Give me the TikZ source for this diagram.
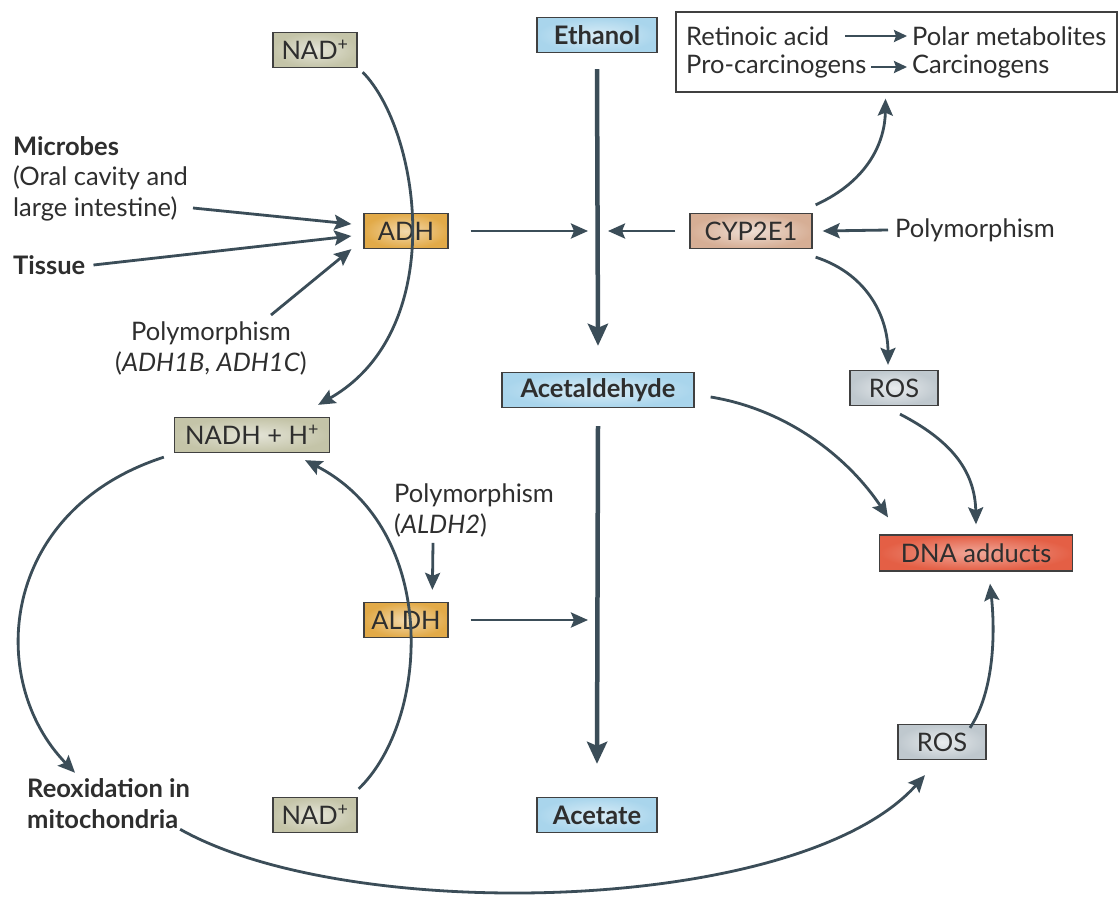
\documentclass[tikz,border=0pt]{standalone}
\usepackage{fontspec}
\setmainfont{Lato}
\usetikzlibrary{arrows.meta}
\definecolor{ln}{HTML}{3B4D58}
\definecolor{txt}{HTML}{2E2E2E}
\definecolor{nadc}{HTML}{C4C4A8}
\definecolor{bluec}{HTML}{A9D5EC}
\definecolor{adhc}{HTML}{E2AA48}
\definecolor{cypc}{HTML}{D6AE95}
\definecolor{rosc}{HTML}{BFC8CE}
\definecolor{dnac}{HTML}{E45F45}
\tikzset{
  box/.style={draw=black!75, line width=1.3pt, minimum height=35pt, inner sep=0pt, text=txt},
  nadbox/.style={box, inner color=nadc!45!white, outer color=nadc, minimum width=84pt},
  bluebox/.style={box, inner color=bluec!45!white, outer color=bluec, font=\fontsize{25.5}{31}\selectfont\bfseries},
  enzbox/.style={box, inner color=adhc!45!white, outer color=adhc, minimum width=84pt},
  cypbox/.style={box, inner color=cypc!40!white, outer color=cypc, minimum width=122pt},
  rosbox/.style={box, inner color=rosc!35!white, outer color=rosc, minimum width=88pt},
  dnabox/.style={box, inner color=dnac!55!white, outer color=dnac, minimum width=193pt, minimum height=36pt},
  lbl/.style={text=txt, inner sep=0pt, align=left},
  bigarr/.style={draw=ln, line width=4.5pt, -{Stealth[length=22pt,width=20pt,inset=4pt]}},
  arr/.style={draw=ln, line width=2.8pt, -{Stealth[length=17pt,width=15pt,inset=3pt]}},
  smarr/.style={draw=ln, line width=2.4pt, -{Stealth[length=13pt,width=12pt,inset=2pt]}},
}
\begin{document}
\begin{tikzpicture}[x=1pt,y=-1pt,font=\fontsize{25.5}{31}\selectfont]
\useasboundingbox (0,0) rectangle (1119,902);
\fill[white] (0,0) rectangle (1119,902);

% boxes
\node[nadbox] (nad1) at (315,50) {NAD\textsuperscript{+}};
\node[bluebox, minimum width=120pt] (eth) at (597,35) {Ethanol};
\node[draw=black!75, line width=1.3pt, minimum width=441pt, minimum height=80pt, inner sep=0pt] (topbox) at (896.5,52) {};
\node[lbl, anchor=west] (ra) at (686,36) {Retinoic acid};
\node[lbl, anchor=west] (pm) at (912,36) {Polar metabolites};
\node[lbl, anchor=west] (pc) at (686,67) {Pro-carcinogens};
\node[lbl, anchor=west] (cg) at (912,67) {Carcinogens};
\coordinate (rastart) at (845,36);
\node[enzbox] (adh) at (406,231) {ADH};
\node[cypbox] (cyp) at (751,231) {CYP2E1};
\node[lbl, anchor=west] (polycyp) at (895,230) {Polymorphism};
\node[lbl, anchor=west, font=\fontsize{25.5}{31}\selectfont\bfseries] (mic) at (13,146) {Microbes};
\node[lbl, anchor=west] (oral) at (13,193) {(Oral cavity and\\large intestine)};
\node[lbl, anchor=west, font=\fontsize{25.5}{31}\selectfont\bfseries] (tis) at (13,265) {Tissue};
\node[lbl, align=center] (polyadh) at (211,348) {Polymorphism\\(\textit{ADH1B}, \textit{ADH1C})};
\node[nadbox, minimum width=155pt] (nadh) at (252,435) {NADH + H\textsuperscript{+}};
\node[bluebox, minimum width=192pt] (acal) at (598,390) {Acetaldehyde};
\node[rosbox] (ros1) at (894,388) {ROS};
\node[lbl, anchor=west] (polyaldh) at (394,510) {Polymorphism\\(\textit{ALDH2})};
\node[dnabox] (dna) at (976,553) {DNA adducts};
\node[enzbox] (aldh) at (406,620) {ALDH};
\node[rosbox] (ros2) at (942,742) {ROS};
\node[lbl, anchor=west, font=\fontsize{25.5}{31}\selectfont\bfseries] (reox) at (27,804) {Reoxidation in\\mitochondria};
\node[nadbox] (nad2) at (315,815) {NAD\textsuperscript{+}};
\node[bluebox, minimum width=120pt] (acet) at (597,815) {Acetate};

% coordinates for free arrow ends on the main axis
\coordinate (ax1) at (588,231);
\coordinate (ax1r) at (608,231);
\coordinate (ax2) at (588,620);

% main axis
\draw[bigarr] ([yshift=-16pt]eth.south) -- ([yshift=26pt]acal.north);
\draw[bigarr] ([yshift=-18pt]acal.south) -- ([yshift=33pt]acet.north);

% small arrows in top box
\draw[smarr] (rastart) -- ([xshift=-5pt]pm.west);
\draw[smarr] ([xshift=5pt]pc.east) -- ([xshift=-5pt]cg.west);

% horizontal arrows
\draw[arr] ([xshift=22pt]adh.east) -- (ax1);
\draw[arr] ([xshift=-14pt]cyp.west) -- (ax1r);
\draw[arr] ([xshift=-7pt]polycyp.west) -- ([xshift=10pt]cyp.east);
\draw[arr] ([xshift=22pt]aldh.east) -- (ax2);

% inputs to ADH
\draw[arr] ([xshift=5pt,yshift=-15pt]oral.east) -- ([xshift=-12pt,yshift=7pt]adh.west);
\draw[arr] ([xshift=8pt]tis.east) -- ([xshift=-12pt,yshift=-5pt]adh.west);
\draw[arr] ([xshift=60pt,yshift=6pt]polyadh.north) -- ([xshift=-12pt]adh.south west);

% NAD cycles
\draw[arr] ([xshift=5pt,yshift=-4pt]nad1.south east) .. controls (420,130) and (450,330) .. ([xshift=-12pt,yshift=12pt]nadh.north east);
\draw[arr] ([xshift=1pt,yshift=8pt]nad2.north east) .. controls (430,720) and (440,530) .. ([xshift=53pt,yshift=-7pt]nadh.south);
\draw[arr] ([xshift=-10pt,yshift=-4pt]nadh.south west) .. controls (0,510) and (-15,680) .. ([xshift=48pt,yshift=6pt]reox.north west);
\draw[arr] ([xshift=-10pt,yshift=0pt]reox.south east) .. controls (350,925) and (800,915) .. ([xshift=-17pt,yshift=-15pt]ros2.south);

% polymorphism ALDH2
\draw[arr] ([xshift=39pt,yshift=-6pt]polyaldh.south west) -- ([xshift=69pt,yshift=12pt]aldh.north west);

% CYP2E1 outputs
\draw[arr] ([xshift=3pt,yshift=8pt]cyp.north east) .. controls (870,180) and (885,140) .. ([xshift=-11pt,yshift=-6pt]topbox.south);
\draw[arr] ([xshift=3pt,yshift=-8pt]cyp.south east) .. controls (870,275) and (888,320) .. ([xshift=-6pt,yshift=5pt]ros1.north);

% DNA adducts inputs
\draw[arr] ([xshift=16pt,yshift=-7pt]acal.east) .. controls (790,410) and (850,460) .. ([xshift=-88pt,yshift=17pt]dna.north);
\draw[arr] ([xshift=6pt,yshift=-8pt]ros1.south) .. controls (950,440) and (975,470) .. ([yshift=10pt]dna.north);
\draw[arr] ([xshift=28pt,yshift=-4pt]ros2.north) .. controls (995,690) and (995,630) .. ([xshift=14pt,yshift=-12pt]dna.south);
\end{tikzpicture}
\end{document}
